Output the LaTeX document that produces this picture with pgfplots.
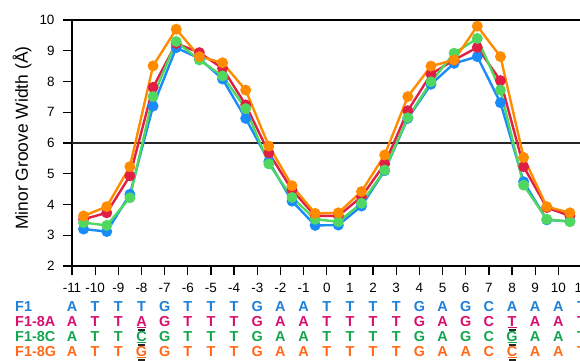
\documentclass[border=0pt]{standalone}
\usepackage{pgfplots}
\pgfplotsset{compat=1.18}
\usepackage{fontspec}
\setmainfont{Liberation Sans}
\definecolor{lblue}{RGB}{25,140,250}
\definecolor{lred}{RGB}{225,30,70}
\definecolor{lgreen}{RGB}{80,215,95}
\definecolor{lorange}{RGB}{255,140,0}
\definecolor{tblue}{RGB}{30,128,215}
\definecolor{tred}{RGB}{215,15,110}
\definecolor{tgreen}{RGB}{20,165,80}
\definecolor{torange}{RGB}{255,105,25}
\begin{document}
\begin{tikzpicture}
\begin{axis}[
  at={(72bp,94bp)}, anchor=south west,
  scale only axis, width=509.5bp, height=246bp,
  xmin=-11, xmax=11, ymin=2, ymax=10,
  xtick={-11,...,11}, ytick={2,...,10},
  xtick pos=left, ytick pos=left,
  tick align=outside, major tick length=9bp,
  axis line style={line width=1.3bp, black},
  every tick/.style={line width=1.3bp, black},
  tick label style={font=\fontsize{13.5}{15}\selectfont},
  xticklabel style={yshift=-5bp},
  yticklabel style={xshift=-5bp},
  /pgf/number format/assume math mode=true,
  ylabel={Minor Groove Width (Å)},
  every axis y label/.style={at={(axis description cs:-0.098,0.52)}, rotate=90, anchor=center, font=\fontsize{17.5}{20}\selectfont},
  clip=false,
]
\addplot[black!85, line width=1.3bp, no marks] coordinates {(-11,6) (11,6)};
\addplot[lblue, line width=2.4bp, mark=*, mark size=4.2bp] coordinates {
(-10.5,3.20) (-9.5,3.12) (-8.5,4.33) (-7.5,7.20) (-6.5,9.10) (-5.5,8.75) (-4.5,8.08) (-3.5,6.80) (-2.5,5.40) (-1.5,4.11) (-0.5,3.32)
(0.5,3.33) (1.5,3.95) (2.5,5.10) (3.5,6.80) (4.5,7.91) (5.5,8.59) (6.5,8.81) (7.5,7.31) (8.5,4.74) (9.5,3.50) (10.5,3.45)};
\addplot[lred, line width=2.4bp, mark=*, mark size=4.2bp] coordinates {
(-10.5,3.52) (-9.5,3.73) (-8.5,4.93) (-7.5,7.81) (-6.5,9.24) (-5.5,8.94) (-4.5,8.43) (-3.5,7.24) (-2.5,5.68) (-1.5,4.47) (-0.5,3.63)
(0.5,3.63) (1.5,4.25) (2.5,5.32) (3.5,7.05) (4.5,8.24) (5.5,8.70) (6.5,9.11) (7.5,8.03) (8.5,5.23) (9.5,3.90) (10.5,3.63)};
\addplot[lgreen, line width=2.4bp, mark=*, mark size=4.2bp] coordinates {
(-10.5,3.41) (-9.5,3.32) (-8.5,4.22) (-7.5,7.51) (-6.5,9.30) (-5.5,8.70) (-4.5,8.18) (-3.5,7.12) (-2.5,5.32) (-1.5,4.23) (-0.5,3.52)
(0.5,3.44) (1.5,4.04) (2.5,5.12) (3.5,6.82) (4.5,7.99) (5.5,8.92) (6.5,9.40) (7.5,7.72) (8.5,4.63) (9.5,3.52) (10.5,3.44)};
\addplot[lorange, line width=2.4bp, mark=*, mark size=4.2bp] coordinates {
(-10.5,3.63) (-9.5,3.93) (-8.5,5.23) (-7.5,8.51) (-6.5,9.70) (-5.5,8.81) (-4.5,8.61) (-3.5,7.72) (-2.5,5.90) (-1.5,4.61) (-0.5,3.71)
(0.5,3.73) (1.5,4.42) (2.5,5.61) (3.5,7.51) (4.5,8.50) (5.5,8.70) (6.5,9.80) (7.5,8.81) (8.5,5.53) (9.5,3.93) (10.5,3.73)};
\end{axis}
\begin{scope}[x=1bp,y=1bp]
\def\rowfont{\fontsize{14.5}{14.5}\selectfont\bfseries}
\node[anchor=west, text=tblue, font=\rowfont, inner sep=0] at (15,360-306.5) {F1};
\node[anchor=west, text=tred, font=\rowfont, inner sep=0] at (15,360-321.5) {F1-8A};
\node[anchor=west, text=tgreen, font=\rowfont, inner sep=0] at (15,360-336.5) {F1-8C};
\node[anchor=west, text=torange, font=\rowfont, inner sep=0] at (15,360-351.5) {F1-8G};
\foreach \b [count=\i from -11] in {A,T,T,T,G,T,T,T,G,A,A,T,T,T,T,G,A,G,C,A,A,A,T}
  \node[text=tblue, font=\rowfont, inner sep=0] at ({72+(\i+11)*23.16},360-306.5) {\b};
\foreach \b [count=\i from -11] in {A,T,T,A,G,T,T,T,G,A,A,T,T,T,T,G,A,G,C,T,A,A,T}
  \node[text=tred, font=\rowfont, inner sep=0] at ({72+(\i+11)*23.16},360-321.5) {\b};
\foreach \b [count=\i from -11] in {A,T,T,C,G,T,T,T,G,A,A,T,T,T,T,G,A,G,C,G,A,A,T}
  \node[text=tgreen, font=\rowfont, inner sep=0] at ({72+(\i+11)*23.16},360-336.5) {\b};
\foreach \b [count=\i from -11] in {A,T,T,G,G,T,T,T,G,A,A,T,T,T,T,G,A,A,C,C,A,A,T}
  \node[text=torange, font=\rowfont, inner sep=0] at ({72+(\i+11)*23.16},360-351.5) {\b};
\foreach \r/\c in {321.5/tred,336.5/tgreen,351.5/torange}{
  \foreach \xx in {141.48,512.04}{
    \draw[\c, line width=1.1bp] (\xx-4.5,360-\r-6) -- (\xx+4.5,360-\r-6);
    \fill[black!85] (\xx-3.5,360-\r-7) rectangle (\xx+3.5,360-\r-9.5);
  }
}
\pgfresetboundingbox
\useasboundingbox (0,0) rectangle (580,360);
\end{scope}
\end{tikzpicture}
\end{document}
